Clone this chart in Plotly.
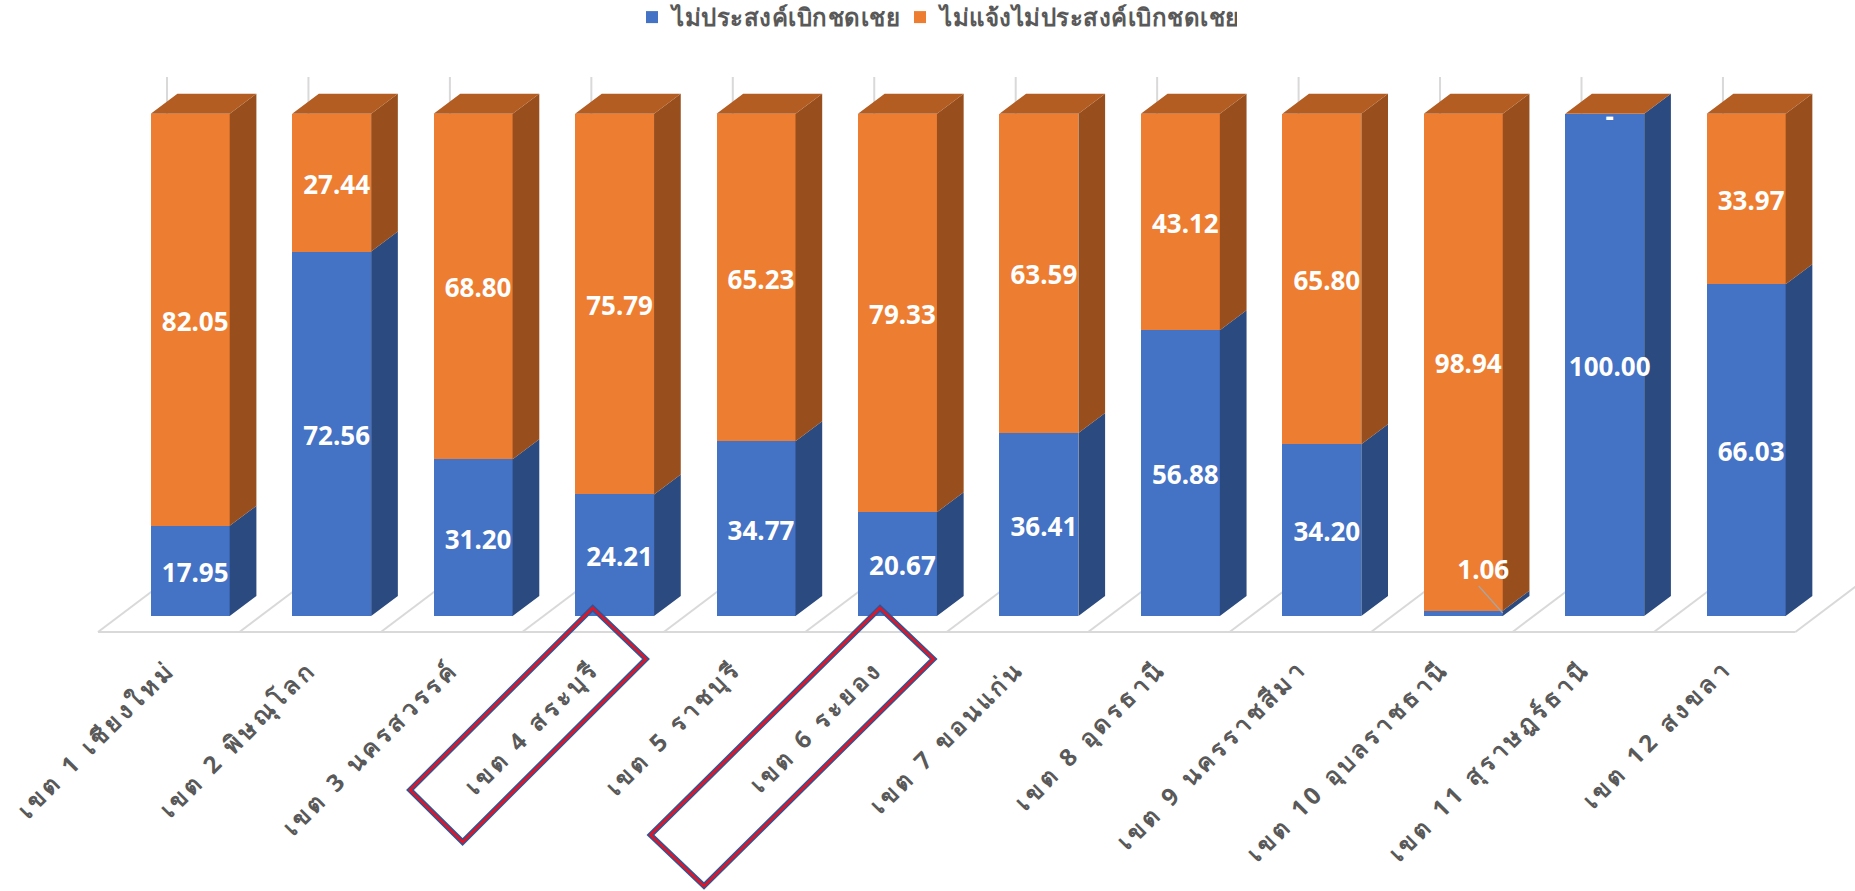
import plotly.graph_objects as go

categories = ["เขต 1 เชียงใหม่", "เขต 2 พิษณุโลก", "เขต 3 นครสวรรค์", "เขต 4 สระบุรี",
              "เขต 5 ราชบุรี", "เขต 6 ระยอง", "เขต 7 ขอนแก่น", "เขต 8 อุดรธานี",
              "เขต 9 นครราชสีมา", "เขต 10 อุบลราชธานี", "เขต 11 สุราษฎร์ธานี", "เขต 12 สงขลา"]
blue_values = [17.95, 72.56, 31.20, 24.21, 34.77, 20.67, 36.41, 56.88, 34.20, 1.06, 100.00, 66.03]
orange_values = [82.05, 27.44, 68.80, 75.79, 65.23, 79.33, 63.59, 43.12, 65.80, 98.94, 0, 33.97]
blue_name = "ไม่ประสงค์เบิกชดเชย"
orange_name = "ไม่แจ้งไม่ประสงค์เบิกชดเชย"

W, H = 1855, 891
PITCH = 141.45           # px per category
UNIT = 5.023             # px per value unit
X0 = 190.2               # px of first category
Y0 = 616.0               # px of value 0
PLOT_BOTTOM = 646
BAR_W = 79 / PITCH
DX = 26.7 / PITCH
DY = 20 / UNIT
FONT = "Noto Sans, Tahoma, sans-serif"
BLUE, ORANGE = "#4472C4", "#ED7D31"
BLUE_SIDE, ORANGE_SIDE, ORANGE_TOP = "#2A4A80", "#984F1D", "#B35D22"
GRID = "#D9D9D9"

n = len(categories)
xs = list(range(n))


def faces(bottoms, tops):
    px, py = [], []
    for i, (b, t) in enumerate(zip(bottoms, tops)):
        r = i + BAR_W / 2
        px += [r, r + DX, r + DX, r, r, None]
        py += [b, b + DY, t + DY, t, b, None]
    return px, py


def top_faces(tops):
    px, py = [], []
    for i, t in enumerate(tops):
        l, r = i - BAR_W / 2, i + BAR_W / 2
        px += [l, r, r + DX, l + DX, l, None]
        py += [t, t, t + DY, t + DY, t, None]
    return px, py


zero = [0] * n
totals = [a + b for a, b in zip(blue_values, orange_values)]

fig = go.Figure()
fig.add_bar(x=xs, y=blue_values, name=blue_name, marker=dict(color=BLUE, line_width=0), width=BAR_W, hoverinfo="skip")
fig.add_bar(x=xs, y=orange_values, name=orange_name, marker=dict(color=ORANGE, line_width=0), width=BAR_W, hoverinfo="skip")

for (bot, top, col) in [(zero, blue_values, BLUE_SIDE), (blue_values, totals, ORANGE_SIDE)]:
    px, py = faces(bot, top)
    fig.add_scatter(x=px, y=py, mode="lines", line=dict(width=0), fill="toself", fillcolor=col,
                    showlegend=False, hoverinfo="skip")
px, py = top_faces(totals)
fig.add_scatter(x=px, y=py, mode="lines", line=dict(width=0), fill="toself", fillcolor=ORANGE_TOP,
                showlegend=False, hoverinfo="skip")

# data labels
LX = 5 / PITCH
LY = -4.5 / UNIT
SMALL_LABEL_X = 20 / PITCH
SMALL_LABEL_Y = 8.6
ZERO_LABEL_Y = 98.9
lab_x, lab_y, lab_t = [], [], []
for i in xs:
    b, o = blue_values[i], orange_values[i]
    lab_x.append(i + LX if b >= 5 else i + SMALL_LABEL_X)
    lab_y.append(b / 2 + LY if b >= 5 else SMALL_LABEL_Y)
    lab_t.append(f"{b:.2f}")
    lab_x.append(i + LX)
    lab_y.append(b + o / 2 + LY if o > 0 else ZERO_LABEL_Y)
    lab_t.append(f"{o:.2f}" if o > 0 else "-")
fig.add_scatter(x=lab_x, y=lab_y, text=lab_t, mode="text", textposition="middle center",
                textfont=dict(family=FONT, size=26, color="white", weight="bold"),
                showlegend=False, hoverinfo="skip", cliponaxis=False)

shapes = []
FLOOR_L = (98 - X0) / PITCH
FLOOR_F = (Y0 - 632) / UNIT
FLOOR_DX = 69 / PITCH
FLOOR_B = (Y0 - 580) / UNIT
WALL_T = (Y0 - 77) / UNIT
line = dict(color=GRID, width=2)
shapes.append(dict(type="line", layer="below", xref="x", yref="y", x0=FLOOR_L, x1=FLOOR_L + n,
                   y0=FLOOR_F, y1=FLOOR_F, line=line))
for k in range(n + 1):
    shapes.append(dict(type="line", layer="below", xref="x", yref="y", x0=FLOOR_L + k, x1=FLOOR_L + k + FLOOR_DX,
                       y0=FLOOR_F, y1=FLOOR_B, line=line))
    shapes.append(dict(type="line", layer="below", xref="x", yref="y", x0=FLOOR_L + k + FLOOR_DX, x1=FLOOR_L + k + FLOOR_DX,
                       y0=FLOOR_B, y1=WALL_T, line=line))
# leader line of the small label
i10 = blue_values.index(min(v for v in blue_values))
shapes.append(dict(type="line", xref="x", yref="y", x0=i10 + (1479 - 1463.6) / PITCH, y0=(Y0 - 586) / UNIT,
                   x1=i10 + BAR_W / 2, y1=(Y0 - 613) / UNIT, line=dict(color="#A6A6A6", width=1.25)))


def box_path(pts):
    out = []
    for j, (x, y) in enumerate(pts):
        out.append(("M" if j == 0 else "L") + f"{x / W:.5f},{1 - y / PLOT_BOTTOM:.5f}")
    return " ".join(out) + " Z"


boxes = [[(592.7, 608), (646, 659), (462.6, 842), (410, 790)],
         [(880, 608), (933.6, 659), (704, 886), (650.5, 835)]]
for b in boxes:
    p = box_path(b)
    shapes.append(dict(type="path", xref="paper", yref="paper", path=p, line=dict(color="#2F5597", width=5.5)))
    shapes.append(dict(type="path", xref="paper", yref="paper", path=p, line=dict(color="#F0101C", width=2.4)))

fig.update_layout(
    width=W, height=H, barmode="stack", bargap=0, plot_bgcolor="white", paper_bgcolor="white",
    margin=dict(l=0, r=0, t=0, b=H - PLOT_BOTTOM, autoexpand=False),
    shapes=shapes,
    xaxis=dict(range=[-X0 / PITCH, (W - X0) / PITCH], tickmode="array", tickvals=xs, ticktext=categories,
               tickangle=-45, showgrid=False, zeroline=False, showline=False, ticks="",
               ticklabelshift=-22, ticklabelstandoff=3,
               tickfont=dict(family=FONT, size=24, color="#595959", weight="bold"), automargin=False),
    yaxis=dict(range=[(Y0 - PLOT_BOTTOM) / UNIT, Y0 / UNIT], visible=False, automargin=False),
    legend=dict(orientation="h", x=632 / W, xanchor="left", y=1 + 5 / PLOT_BOTTOM, yanchor="top",
                font=dict(family=FONT, size=24, color="#595959", weight="bold"),
                traceorder="normal", itemwidth=30, bgcolor="rgba(0,0,0,0)"),
)

post = """
var s=document.createElement('style');
s.textContent='body{margin:0;overflow:hidden} .xtick text{letter-spacing:3.9px} .legendtext{letter-spacing:.5px}';
document.head.appendChild(s);
"""
fig.write_html("out.html", post_script=post, config={"displayModeBar": False})
